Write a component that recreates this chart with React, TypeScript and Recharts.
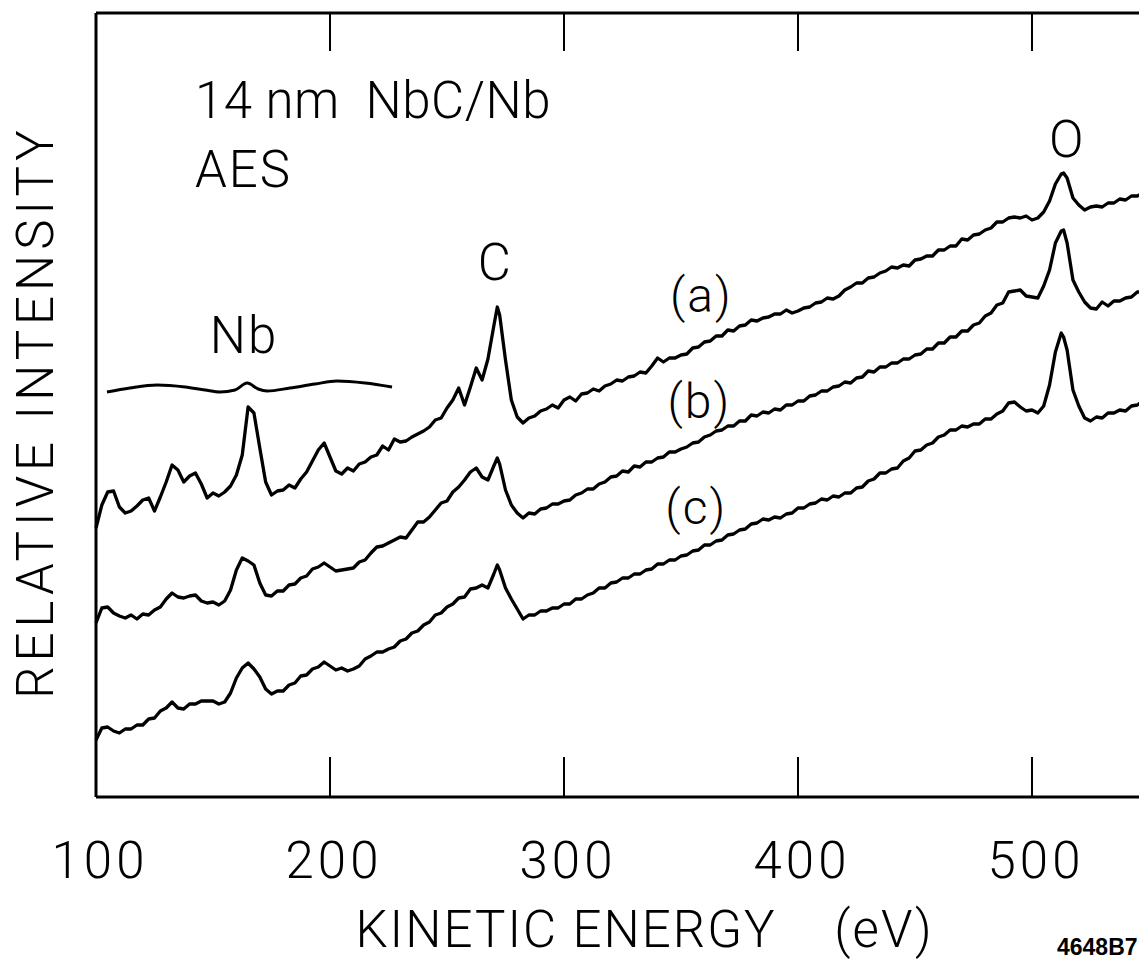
import { LineChart, Line, XAxis, YAxis, ReferenceDot, Label } from "recharts";

// Kinetic energy grid (eV), shared by the three spectra
const energy = [
  100, 102.5, 105, 107.5, 110, 112.5, 115, 117.5, 120, 122.5,
  125, 127.5, 130, 132.5, 135, 137.5, 140, 142.5, 145, 147.5,
  150, 152.5, 155, 157.5, 160, 162.5, 165, 167.5, 170, 172.5,
  175, 177.5, 180, 182.5, 185, 187.5, 190, 192.5, 195, 197.5,
  200, 202.5, 205, 207.5, 210, 212.5, 215, 217.5, 220, 222.5,
  225, 227.5, 230, 232.5, 235, 237.5, 240, 242.5, 245, 247.5,
  250, 252.5, 255, 257.5, 260, 262.5, 265, 267.5, 270, 271.5, 272.5,
  275, 277.5, 280, 282.5, 285, 287.5, 290, 292.5, 295, 297.5,
  300, 302.5, 305, 307.5, 310, 312.5, 315, 317.5, 320, 322.5,
  325, 327.5, 330, 332.5, 335, 337.5, 340, 342.5, 345, 347.5,
  350, 352.5, 355, 357.5, 360, 362.5, 365, 367.5, 370, 372.5,
  375, 377.5, 380, 382.5, 385, 387.5, 390, 392.5, 395, 397.5,
  400, 402.5, 405, 407.5, 410, 412.5, 415, 417.5, 420, 422.5,
  425, 427.5, 430, 432.5, 435, 437.5, 440, 442.5, 445, 447.5,
  450, 452.5, 455, 457.5, 460, 462.5, 465, 467.5, 470, 472.5,
  475, 477.5, 480, 482.5, 485, 487.5, 490, 492.5, 495, 497.5,
  500, 502.5, 505, 507.5, 510, 512.5, 513.5, 515, 517.5, 520, 522.5,
  525, 527.5, 530, 532.5, 535, 537.5, 540, 542.5, 545, 547.5,
];

// Relative intensity (arb. units), spectrum (a)
const spectrumA = [
  269, 292, 305, 306, 290, 284, 286, 291, 297, 299,
  286, 300, 315, 332, 327, 315, 321, 324, 313, 299,
  304, 301, 305, 311, 322, 342, 390, 384, 349, 315,
  302, 306, 307, 312, 309, 318, 325, 336, 347, 354,
  340, 326, 323, 329, 326, 333, 335, 340, 342, 351,
  347, 358, 355, 356, 360, 363, 366, 370, 377, 379,
  389, 397, 409, 392, 410, 429, 417, 438, 471, 490, 482,
  437, 397, 380, 374, 379, 381, 386, 388, 392, 389,
  397, 400, 396, 403, 404, 408, 406, 411, 413, 417,
  416, 420, 421, 425, 424, 431, 439, 435, 439, 439,
  442, 443, 449, 450, 455, 456, 461, 461, 467, 466,
  471, 472, 477, 476, 479, 480, 483, 483, 487, 484,
  486, 489, 490, 494, 495, 499, 498, 501, 507, 510,
  514, 514, 519, 520, 524, 526, 530, 529, 532, 531,
  537, 538, 541, 541, 547, 547, 551, 551, 558, 557,
  562, 563, 567, 569, 575, 575, 579, 580, 579, 581,
  577, 579, 585, 596, 613, 623, 624, 619, 599, 592, 587,
  590, 591, 590, 594, 594, 598, 597, 601, 601, 604,
];

// spectrum (b)
const spectrumB = [
  174, 189, 190, 184, 181, 179, 182, 178, 183, 182,
  187, 190, 198, 204, 200, 199, 201, 202, 196, 194,
  195, 192, 196, 207, 227, 239, 236, 232, 214, 202,
  201, 206, 206, 212, 213, 219, 221, 228, 230, 234,
  230, 226, 227, 228, 229, 235, 237, 244, 250, 251,
  254, 257, 260, 259, 267, 275, 275, 280, 287, 294,
  296, 305, 310, 317, 325, 329, 320, 317, 331, 339, 333,
  307, 292, 284, 279, 284, 283, 288, 289, 293, 293,
  296, 297, 302, 304, 308, 308, 313, 315, 320, 321,
  326, 325, 331, 330, 335, 335, 339, 340, 345, 345,
  348, 350, 354, 355, 360, 362, 366, 367, 371, 371,
  376, 376, 382, 381, 385, 384, 388, 387, 392, 392,
  396, 396, 401, 402, 406, 406, 410, 411, 415, 414,
  419, 420, 426, 425, 430, 430, 434, 434, 438, 438,
  442, 443, 448, 448, 454, 454, 460, 460, 466, 466,
  472, 474, 481, 484, 492, 494, 505, 506, 507, 501,
  500, 499, 511, 527, 554, 566, 567, 554, 517, 505, 495,
  489, 488, 495, 491, 496, 496, 499, 500, 505, 505,
];

// spectrum (c)
const spectrumC = [
  57, 69, 70, 66, 64, 68, 68, 72, 72, 78,
  79, 86, 89, 95, 89, 88, 93, 93, 96, 96,
  96, 93, 95, 104, 119, 129, 134, 128, 120, 108,
  103, 106, 106, 112, 114, 121, 122, 128, 130, 135,
  131, 127, 129, 126, 128, 131, 138, 141, 145, 145,
  148, 150, 156, 158, 164, 166, 172, 175, 182, 184,
  190, 193, 199, 200, 208, 209, 212, 209, 223, 232, 227,
  209, 198, 188, 178, 182, 182, 186, 186, 189, 189,
  193, 193, 198, 198, 202, 204, 209, 209, 214, 215,
  219, 219, 223, 223, 227, 228, 233, 233, 237, 237,
  241, 242, 246, 247, 252, 252, 256, 257, 262, 263,
  267, 268, 273, 274, 278, 277, 280, 279, 283, 284,
  289, 289, 293, 294, 298, 297, 301, 300, 304, 304,
  309, 310, 316, 318, 324, 324, 328, 329, 336, 339,
  346, 347, 352, 354, 360, 362, 367, 367, 371, 370,
  373, 373, 378, 378, 383, 386, 394, 395, 390, 386,
  387, 384, 391, 412, 445, 464, 460, 447, 407, 391, 379,
  376, 380, 379, 384, 384, 387, 386, 391, 392, 396,
];

// curly brace grouping the Nb transitions
const braceEnergy = [104.7, 114.5, 126.1, 138.1, 146.6, 153, 159.4, 164.6, 169.3, 173.1, 182.9, 193.6, 203, 215, 226.5];
const braceLevel = [405, 409, 412, 410, 407, 405, 407, 414, 408, 406, 409, 413, 416, 414, 410];

const xTicks = [100, 200, 300, 400, 500];

const rows = energy.map((e, i) => ({
  energy: e,
  a: spectrumA[i],
  b: spectrumB[i],
  c: spectrumC[i],
}));

const braceRows = braceEnergy.map((e, i) => ({ energy: e, brace: braceLevel[i] }));

const FONT = "Roboto, 'DejaVu Sans', sans-serif";
const textStyle = { fill: "#000", fontFamily: FONT, fontWeight: 300, fontSize: 51, letterSpacing: 2 };

export default function App() {
  return (
    <div
      style={{
        position: "absolute",
        left: 0,
        top: 0,
        width: 1139,
        height: 959,
        overflow: "hidden",
        background: "#fff",
      }}
    >
      <LineChart
        width={1200}
        height={959}
        data={rows}
        margin={{ top: 12, right: 51, bottom: 0, left: 0 }}
      >
        {/* top frame with inward ticks */}
        <XAxis
          xAxisId="top"
          orientation="top"
          type="number"
          dataKey="energy"
          domain={[100, 550]}
          ticks={xTicks}
          interval={0}
          tick={() => <g />}
          height={1}
          tickSize={-38}
          axisLine={{ stroke: "#000", strokeWidth: 3 }}
          tickLine={{ stroke: "#000", strokeWidth: 2 }}
        />
        <XAxis
          dataKey="energy"
          type="number"
          domain={[100, 550]}
          ticks={xTicks}
          interval={0}
          height={162}
          tickSize={-40}
          tickMargin={85}
          tick={{ ...textStyle, letterSpacing: 4, dx: 4 }}
          axisLine={{ stroke: "#000", strokeWidth: 3 }}
          tickLine={{ stroke: "#000", strokeWidth: 2 }}
        >
          <Label
            value={"KINETIC ENERGY\u00a0\u00a0\u00a0 (eV)"}
            position="insideBottom"
            offset={12}
            dx={22}
            {...textStyle}
          />
          <Label
            value="4648B7"
            position="insideBottomLeft"
            offset={0}
            dx={961}
            dy={-4}
            fill="#000"
            fontFamily="'Liberation Sans', Arial, sans-serif"
            fontWeight={700}
            fontSize={23}
          />
        </XAxis>
        <YAxis
          type="number"
          domain={[0, 784]}
          width={96}
          tick={false}
          tickLine={false}
          axisLine={{ stroke: "#000", strokeWidth: 3 }}
        >
          <Label
            value="RELATIVE INTENSITY"
            angle={-90}
            position="center"
            dx={-13}
            dy={7}
            {...textStyle}
            letterSpacing={5}
          />
        </YAxis>

        <Line dataKey="a" type="linear" stroke="#000" strokeWidth={3.3} strokeLinejoin="round" dot={false} isAnimationActive={false} />
        <Line dataKey="b" type="linear" stroke="#000" strokeWidth={3.3} strokeLinejoin="round" dot={false} isAnimationActive={false} />
        <Line dataKey="c" type="linear" stroke="#000" strokeWidth={3.3} strokeLinejoin="round" dot={false} isAnimationActive={false} />
        <Line
          xAxisId="top"
          data={braceRows}
          dataKey="brace"
          type="monotone"
          stroke="#000"
          strokeWidth={3}
          dot={false}
          isAnimationActive={false}
        />

        {/* annotations */}
        <ReferenceDot x={142.3} y={697} r={0} fill="none" stroke="none" ifOverflow="visible"
          label={{ value: "14 nm\u00a0 NbC/Nb", position: "right", offset: 0, ...textStyle, letterSpacing: 0.5 }} />
        <ReferenceDot x={142.3} y={628.5} r={0} fill="none" stroke="none" ifOverflow="visible"
          label={{ value: "AES", position: "right", offset: 0, ...textStyle }} />
        <ReferenceDot x={163.3} y={462} r={0} fill="none" stroke="none" ifOverflow="visible"
          label={{ value: "Nb", position: "center", ...textStyle }} />
        <ReferenceDot x={270.6} y={535.5} r={0} fill="none" stroke="none" ifOverflow="visible"
          label={{ value: "C", position: "center", ...textStyle }} />
        <ReferenceDot x={515.1} y={658.5} r={0} fill="none" stroke="none" ifOverflow="visible"
          label={{ value: "O", position: "center", ...textStyle }} />
        <ReferenceDot x={358.7} y={502} r={0} fill="none" stroke="none" ifOverflow="visible"
          label={{ value: "(a)", position: "center", ...textStyle, fontSize: 48 }} />
        <ReferenceDot x={357.8} y={396} r={0} fill="none" stroke="none" ifOverflow="visible"
          label={{ value: "(b)", position: "center", ...textStyle, fontSize: 48 }} />
        <ReferenceDot x={356.5} y={290} r={0} fill="none" stroke="none" ifOverflow="visible"
          label={{ value: "(c)", position: "center", ...textStyle, fontSize: 48 }} />
      </LineChart>
    </div>
  );
}
